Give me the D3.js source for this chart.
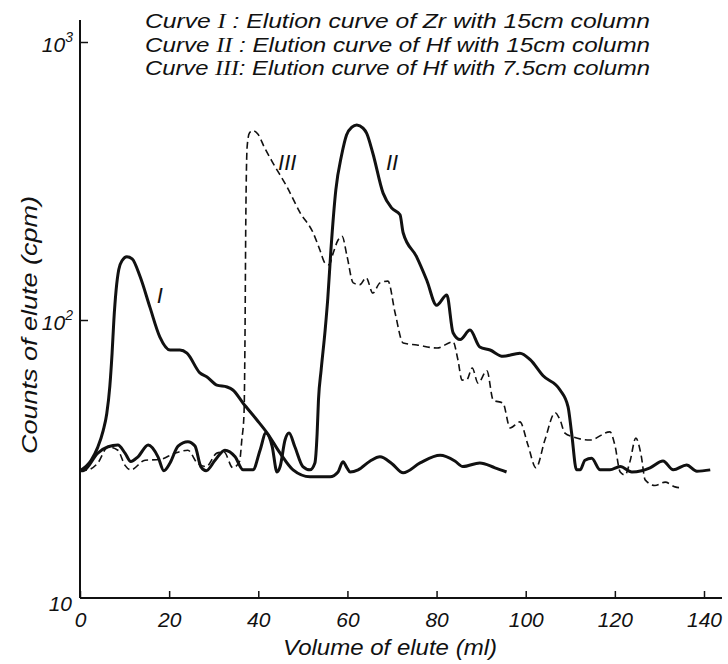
<!DOCTYPE html>
<html><head><meta charset="utf-8">
<script src="https://cdn.jsdelivr.net/npm/d3@7"></script>
<style>
html,body{margin:0;padding:0;background:#fff;}
svg{display:block;}
text{font-family:"Liberation Sans","DejaVu Sans",sans-serif;font-style:italic;fill:#111;}
</style></head>
<body>
<svg id="chart" width="728" height="664"></svg>
<script>
// ---- data (ml, cpm) ----
const xTicks = [0, 20, 40, 60, 80, 100, 120, 140];
const yTicks = [1000, 100];
const legendLines = [
  ["Curve ", "I", " : Elution curve of Zr with 15cm column"],
  ["Curve ", "II", " : Elution curve of Hf with 15cm column"],
  ["Curve ", "III", ": Elution curve of Hf with 7.5cm column"]
];
const curveI = [[0,28.7],[2.5,31.3],[4.0,34.9],[5.2,40],[6.0,46],[6.7,58],[7.2,76],[7.6,100],[8.1,128],[8.7,152],[9.5,164],[10.5,169],[11.7,166],[13.5,143],[15.7,111],[17.9,87],[20.2,78],[22.4,78],[24.0,76],[26.9,64.5],[28.5,62.4],[30.7,58.3],[33.0,57.4],[34.3,56],[36.6,50.2],[39.7,43.7],[42.0,39.2],[44.9,33.2],[47.8,28.9],[51.6,27.3],[56.1,27.3],[57.9,28.4],[59.0,30.9],[59.9,29.4],[60.6,28.4],[62.4,28.9],[65.1,31.1],[67.3,32.2],[70.0,30.4],[72.5,28.2],[76.3,30.6],[80.8,32.6],[84.1,31.1],[85.9,29.7],[89.7,30.6],[93.1,29.4],[95.7,28.4]];
const curveII = [[0,28.7],[0.7,28.7],[4.0,33.2],[6.3,35],[8.5,35.5],[10.1,33.2],[11.4,31],[13.0,32.2],[15.3,35.5],[17.5,32.2],[18.8,28.7],[20.2,30.6],[22.0,35.2],[24.2,36.5],[25.8,35.2],[27.1,29.7],[28.3,28.7],[30.3,31.3],[32.5,34],[34.8,32.2],[36.6,28.9],[38.8,28.9],[40.4,34],[41.7,39.2],[43.1,35.2],[44.2,28.4],[44.9,29.7],[46.0,37],[46.9,39.2],[48.2,35],[50.0,29.7],[51.6,28.9],[52.7,30.6],[53.2,39],[53.5,51.5],[54.1,66],[55.0,92],[55.6,120],[56.3,179],[57.4,294],[58.7,392],[59.8,463],[61.0,494],[62.1,503],[63.5,490],[64.3,470],[65.7,398],[68.0,286],[69.9,253],[71.8,239],[72.5,206],[75.5,169],[77.8,139],[80.0,113],[82.3,123],[83.7,90],[85.3,85],[87.5,92],[89.7,80],[92.0,78],[94.9,74],[98.7,76],[101.0,72],[103.9,63],[107.7,56],[109.5,48.7],[110.3,39.2],[111.4,28.9],[112.2,28.9],[113.3,31.3],[114.8,31.8],[116.7,28.9],[118.9,28.9],[121.2,29.7],[123.8,28.4],[126.0,28.7],[127.9,29.4],[130.8,31.1],[133.1,28.9],[136.1,30.1],[138.4,28.6],[141.4,28.9]];
const curveIII = [[0,28.7],[1.8,28.9],[4.0,30.6],[6.3,35],[8.5,34],[10.1,30],[11.4,28.9],[14.6,31.3],[17.9,31.5],[21.3,33.2],[24.2,34],[26.3,30.6],[28.3,29.7],[30.7,33.2],[32.3,33.5],[34.3,29.4],[35.8,31],[36.3,37],[36.8,46],[37.0,80],[37.2,229],[37.5,420],[38.0,470],[38.7,480],[39.9,467],[41.3,420],[43.3,367],[46.4,302],[49.4,243],[52.3,206],[53.8,179],[55.0,160],[55.9,158],[56.8,174],[57.9,194],[58.8,200],[59.9,170],[61.3,136],[62.8,134],[64.2,142],[65.7,125],[67.3,136],[69.1,138],[70.7,106],[72.5,82.7],[75.6,81.3],[80.1,79.3],[83.7,83.5],[84.8,71.8],[85.7,60.8],[86.8,61],[88.0,67.2],[89.3,59.3],[91.3,65.7],[92.7,51.5],[94.9,50.2],[96.5,40.9],[98.7,43],[100.5,35.5],[102.3,29.4],[104.3,37],[106.6,46.4],[107.7,43.7],[108.8,39.2],[110.6,38],[114.4,37],[118.9,39.6],[120.0,35.5],[121.2,28.4],[122.3,27.7],[123.4,31],[124.7,37.6],[125.9,32.6],[126.8,26.6],[129.0,25.4],[131.3,26.1],[133.5,25.1],[135.1,24.9]];
const curveLabels = [["I", 17.9, 115], ["II", 70.0, 345], ["III", 46.5, 345]];

// ---- drawing ----
const svg = d3.select("#chart");
const x = d3.scaleLinear().domain([0, 140]).range([80, 704]);
const y = d3.scaleLog().domain([10, 1000]).range([598, 42]);
const ink = "#111";

// axes lines
svg.append("line").attr("x1", x(0)).attr("x2", x(0)).attr("y1", 20).attr("y2", y(10))
  .attr("stroke", ink).attr("stroke-width", 2);
svg.append("line").attr("x1", x(0)).attr("x2", 722).attr("y1", y(10)).attr("y2", y(10))
  .attr("stroke", ink).attr("stroke-width", 2);

const xAxis = svg.append("g").attr("transform", `translate(0,${y(10)})`)
  .call(d3.axisBottom(x).tickValues(xTicks).tickSize(-7).tickPadding(14).tickFormat(d => d));
xAxis.select(".domain").remove();
xAxis.selectAll(".tick line").attr("stroke", ink).attr("stroke-width", 1.5);
xAxis.selectAll(".tick text").attr("font-size", 21).attr("font-family", "Liberation Sans, sans-serif")
  .attr("font-style", "italic").attr("fill", ink);

const yAxis = svg.append("g").attr("transform", `translate(${x(0)},0)`)
  .call(d3.axisLeft(y).tickValues(yTicks).tickSize(-8).tickFormat(""));
yAxis.select(".domain").remove();
yAxis.selectAll(".tick line").attr("stroke", ink).attr("stroke-width", 1.5);

// y tick labels 10^3, 10^2, 10
const yl = svg.append("g");
yTicks.forEach(v => {
  const t = yl.append("text").attr("x", 73).attr("y", y(v) + 10).attr("text-anchor", "end")
    .attr("font-size", 21);
  t.append("tspan").text("10");
  t.append("tspan").attr("dy", -10).attr("font-size", 14).text(String(Math.round(Math.log10(v))));
});
yl.append("text").attr("x", 72).attr("y", y(10) + 13).attr("text-anchor", "end").attr("font-size", 21).text("10");

// axis titles
svg.append("text").attr("x", 390).attr("y", 655).attr("text-anchor", "middle")
  .attr("font-size", 22).attr("textLength", 214).attr("lengthAdjust", "spacingAndGlyphs")
  .text("Volume of elute (ml)");
svg.append("text").attr("transform", `translate(37,325) rotate(-90)`).attr("text-anchor", "middle")
  .attr("font-size", 22).attr("textLength", 258).attr("lengthAdjust", "spacingAndGlyphs")
  .text("Counts of elute (cpm)");

// legend
legendLines.forEach((parts, i) => {
  const t = svg.append("text").attr("x", 145).attr("y", 28 + i * 23.5).attr("font-size", 21)
    .attr("textLength", 505).attr("lengthAdjust", "spacingAndGlyphs");
  t.append("tspan").text(parts[0]);
  t.append("tspan").attr("font-family", "Liberation Serif, serif").text(parts[1]);
  t.append("tspan").text(parts[2]);
});

// curves
const line = d3.line().x(d => x(d[0])).y(d => y(d[1])).curve(d3.curveMonotoneX);
svg.append("path").datum(curveIII).attr("d", line).attr("fill", "none")
  .attr("stroke", ink).attr("stroke-width", 1.6).attr("stroke-dasharray", "7,4");
svg.append("path").datum(curveI).attr("d", line).attr("fill", "none")
  .attr("stroke", ink).attr("stroke-width", 3).attr("stroke-linejoin", "round");
svg.append("path").datum(curveII).attr("d", line).attr("fill", "none")
  .attr("stroke", ink).attr("stroke-width", 3).attr("stroke-linejoin", "round");

// curve labels
curveLabels.forEach(([s, mx, v]) => {
  svg.append("text").attr("x", x(mx)).attr("y", y(v)).attr("text-anchor", "middle")
    .attr("font-family", "Liberation Serif, serif").attr("font-size", 22).text(s);
});
</script>
</body></html>
